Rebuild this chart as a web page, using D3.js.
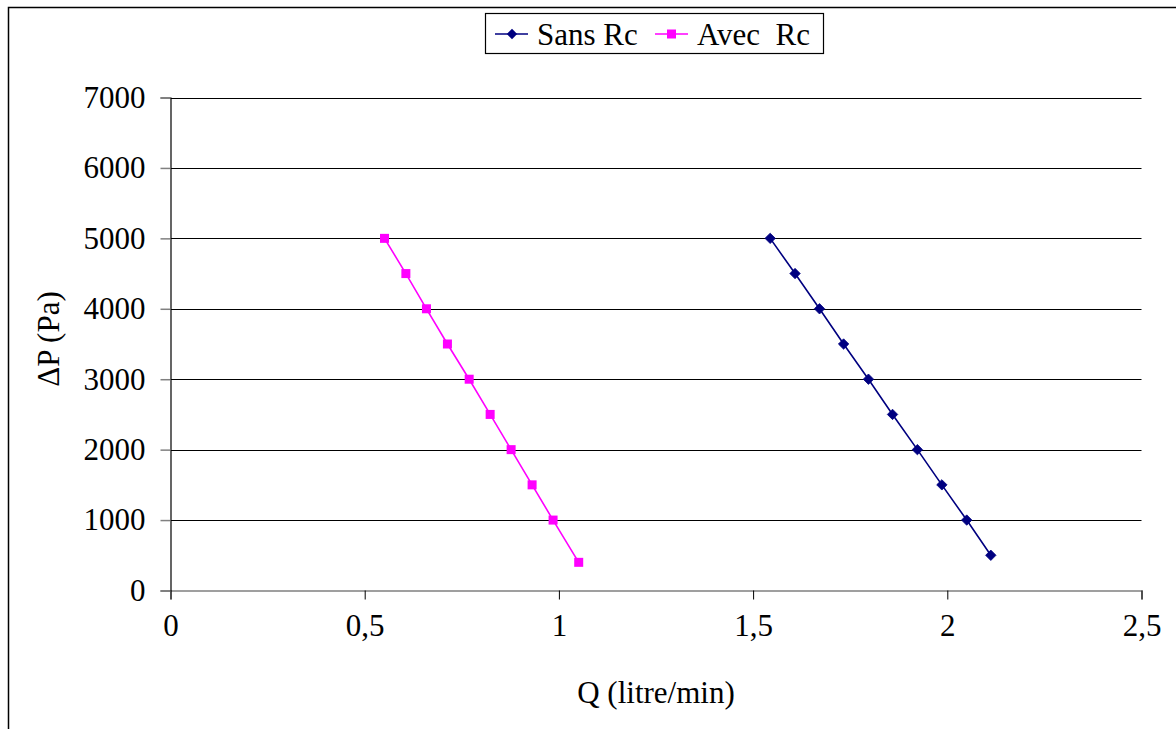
<!DOCTYPE html>
<html>
<head>
<meta charset="utf-8">
<script src="https://cdn.jsdelivr.net/npm/d3@7"></script>
<style>
  html, body { margin: 0; padding: 0; background: #fff; }
  svg { display: block; }
  svg text.ser, text.ser, .ser { font-family: "Liberation Serif" !important; fill: #000; }
</style>
</head>
<body>
<svg id="chart" width="1176" height="729" style="font-family: 'Liberation Serif'"></svg>
<script>
// ---- data ----
const sansRcQ = [1.544, 1.608, 1.671, 1.733, 1.797, 1.859, 1.923, 1.986, 2.050, 2.112];
const sansRcP = [5000, 4500, 4000, 3500, 3000, 2500, 2000, 1500, 1000, 500];
const avecRcQ = [0.551, 0.606, 0.659, 0.713, 0.769, 0.823, 0.877, 0.931, 0.985, 1.051];
const avecRcP = [5000, 4500, 4000, 3500, 3000, 2500, 2000, 1500, 1000, 400];
const xTicks = [0, 0.5, 1, 1.5, 2, 2.5];
const yTicks = [0, 1000, 2000, 3000, 4000, 5000, 6000, 7000];
const seriesNames = ["Sans Rc", "Avec  Rc"];

const svg = d3.select("#chart");
const fs = 31;
const styleText = sel => sel.attr("class", "ser").attr("font-family", "Liberation Serif")
  .style("font-family", "Liberation Serif", "important").attr("font-size", fs).attr("fill", "#000");

// outer frame (top + left edges visible)
svg.append("rect").attr("x", 8.5).attr("y", 7.5).attr("width", 1200).attr("height", 800)
  .attr("fill", "none").attr("stroke", "#000").attr("stroke-width", 1.5);

const x = d3.scaleLinear().domain([0, 2.5]).range([170.5, 1141.5]);
const y = d3.scaleLinear().domain([0, 7000]).range([590.5, 97.5]);

// gridlines
svg.append("g").selectAll("line").data(yTicks.filter(d => d > 0)).join("line")
  .attr("x1", x(0)).attr("x2", x(2.5))
  .attr("y1", d => Math.round(y(d)) + 0.5).attr("y2", d => Math.round(y(d)) + 0.5)
  .attr("stroke", "#000").attr("stroke-width", 1);

// x axis
const xAxis = svg.append("g").attr("transform", `translate(0,${y(0)})`)
  .call(d3.axisBottom(x).tickValues(xTicks).tickSize(9).tickPadding(14)
    .tickFormat(d => String(d).replace(".", ",")));
xAxis.attr("font-family", "Liberation Serif").attr("font-size", fs);
xAxis.select(".domain").attr("stroke", "#808080").attr("stroke-width", 1.5);
xAxis.selectAll(".tick line").attr("stroke", "#000");
xAxis.selectAll("text").call(styleText);

// y axis
const yAxis = svg.append("g").attr("transform", `translate(${x(0)},0)`)
  .call(d3.axisLeft(y).tickValues(yTicks).tickSize(10).tickPadding(15).tickFormat(d3.format("d")));
yAxis.attr("font-family", "Liberation Serif").attr("font-size", fs);
yAxis.select(".domain").attr("stroke", "#000").attr("stroke-width", 1.2);
yAxis.selectAll(".tick line").attr("stroke", "#808080").attr("stroke-width", 1.5);
yAxis.selectAll("text").call(styleText);

// axis titles
svg.append("text").attr("x", 656).attr("y", 703).attr("text-anchor", "middle")
  .call(styleText).text("Q (litre/min)");
svg.append("text").attr("transform", "translate(59,339) rotate(-90)").attr("text-anchor", "middle")
  .call(styleText).text("ΔP (Pa)");

// lines
const line = d3.line().x(d => x(d[0])).y(d => y(d[1]));
const navyPts = sansRcQ.map((q, i) => [q, sansRcP[i]]);
const pinkPts = avecRcQ.map((q, i) => [q, avecRcP[i]]);
svg.append("path").datum(navyPts).attr("d", line).attr("fill", "none").attr("stroke", "#000080").attr("stroke-width", 1.6);
svg.append("path").datum(pinkPts).attr("d", line).attr("fill", "none").attr("stroke", "#FF00FF").attr("stroke-width", 1.6);

const diamond = (cx, cy, r) => `M${cx},${cy - r}L${cx + r},${cy}L${cx},${cy + r}L${cx - r},${cy}Z`;
svg.append("g").selectAll("path").data(navyPts).join("path")
  .attr("d", d => diamond(x(d[0]), y(d[1]), 5.2)).attr("fill", "#000080").attr("stroke", "#000080").attr("stroke-width", 0.8);
svg.append("g").selectAll("rect").data(pinkPts).join("rect")
  .attr("x", d => x(d[0]) - 4.5).attr("y", d => y(d[1]) - 4.5).attr("width", 9).attr("height", 9)
  .attr("fill", "#FF00FF");

// legend
const lg = svg.append("g");
lg.append("rect").attr("x", 485.5).attr("y", 13.5).attr("width", 338).attr("height", 40)
  .attr("fill", "#fff").attr("stroke", "#000").attr("stroke-width", 1.2);
const ly = 34;
lg.append("line").attr("x1", 495).attr("x2", 528).attr("y1", ly).attr("y2", ly).attr("stroke", "#000080").attr("stroke-width", 1.6);
lg.append("path").attr("d", diamond(512, ly, 5.2)).attr("fill", "#000080");
lg.append("text").attr("x", 537).attr("y", ly).attr("dy", "0.34em").call(styleText).text(seriesNames[0]);
lg.append("line").attr("x1", 655).attr("x2", 688).attr("y1", ly).attr("y2", ly).attr("stroke", "#FF00FF").attr("stroke-width", 1.6);
lg.append("rect").attr("x", 671.5 - 4.5).attr("y", ly - 4.5).attr("width", 9).attr("height", 9).attr("fill", "#FF00FF");
lg.append("text").attr("x", 697).attr("y", ly).attr("dy", "0.34em").call(styleText)
  .style("white-space", "pre").text(seriesNames[1]);
</script>
</body>
</html>
